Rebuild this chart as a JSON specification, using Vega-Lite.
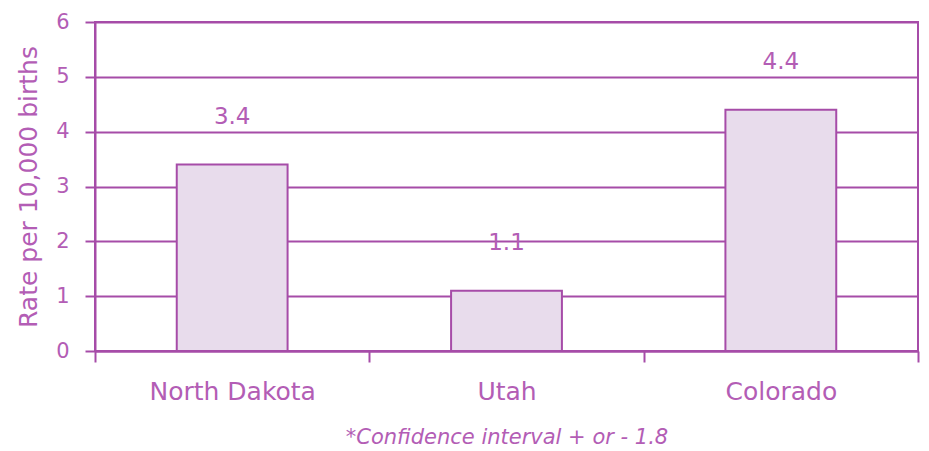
{
  "$schema": "https://vega.github.io/schema/vega-lite/v6.json",
  "autosize": "none",
  "width": 823,
  "height": 329,
  "padding": {"left": 95, "top": 22, "right": 11, "bottom": 100},
  "background": "white",
  "config": {
    "view": {"stroke": "#a64ca8", "strokeWidth": 2},
    "font": "DejaVu Sans"
  },
  "data": {
    "values": [
      {"state": "North Dakota", "rate": 3.4},
      {"state": "Utah", "rate": 1.1},
      {"state": "Colorado", "rate": 4.4}
    ]
  },
  "layer": [
    {
      "mark": {"type": "bar", "fill": "#e8dcec", "stroke": "#a64ca8", "strokeWidth": 2, "width": {"band": 0.404}},
      "encoding": {
        "x": {
          "field": "state",
          "type": "nominal",
          "sort": null,
          "scale": {"paddingInner": 0, "paddingOuter": 0},
          "axis": {
            "title": "*Confidence interval + or - 1.8",
            "titleFont": "DejaVu Sans",
            "titleFontStyle": "italic",
            "titleFontWeight": "normal",
            "titleFontSize": 21,
            "titleColor": "#b35db5",
            "titlePadding": 22,
            "labelAngle": 0,
            "labelFontSize": 25,
            "labelColor": "#b35db5",
            "labelPadding": 17,
            "tickBand": "extent",
            "tickSize": 11,
            "tickColor": "#a64ca8",
            "tickWidth": 2,
            "domainColor": "#a64ca8",
            "domainWidth": 2,
            "grid": false
          }
        },
        "y": {
          "field": "rate",
          "type": "quantitative",
          "scale": {"domain": [0, 6], "nice": false},
          "axis": {
            "title": "Rate per 10,000 births",
            "titleFontSize": 25,
            "titleFontWeight": "normal",
            "titleColor": "#b35db5",
            "titlePadding": 14,
            "values": [0, 1, 2, 3, 4, 5, 6],
            "format": "d",
            "labelFontSize": 21,
            "labelColor": "#b35db5",
            "labelPadding": 16,
            "tickSize": 10,
            "tickColor": "#a64ca8",
            "tickWidth": 2,
            "domainColor": "#a64ca8",
            "domainWidth": 2,
            "grid": true,
            "gridColor": "#a64ca8",
            "gridWidth": 2,
            "gridOpacity": 1
          }
        }
      }
    },
    {
      "mark": {"type": "text", "baseline": "bottom", "dy": -36, "fontSize": 23, "color": "#b35db5"},
      "encoding": {
        "x": {"field": "state", "type": "nominal", "sort": null},
        "y": {"field": "rate", "type": "quantitative"},
        "text": {"field": "rate", "type": "quantitative", "format": ".1f"}
      }
    }
  ]
}
